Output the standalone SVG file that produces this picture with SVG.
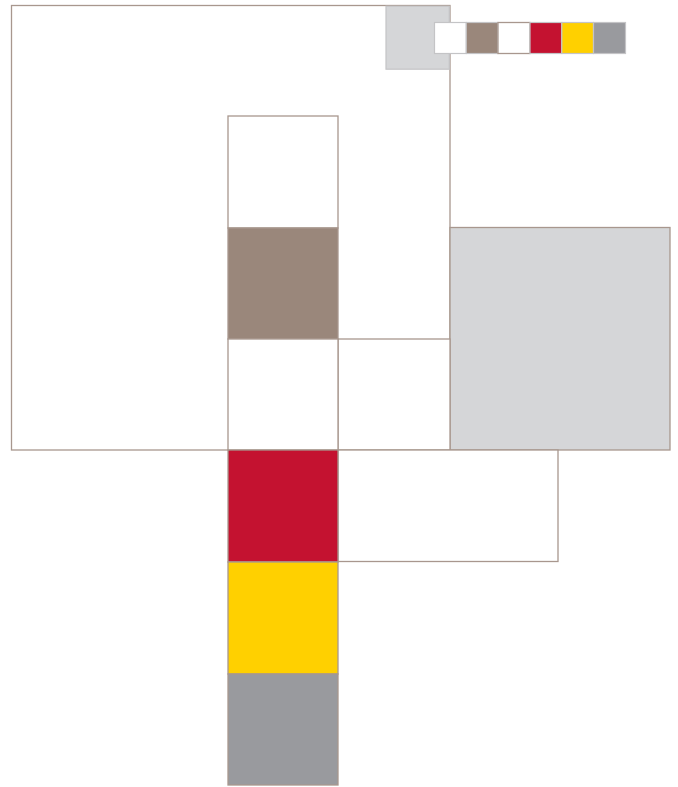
<svg xmlns="http://www.w3.org/2000/svg" width="678" height="787" viewBox="0 0 678 787">
<style>
.b{stroke:#a8978e;stroke-width:1.3}
.s{stroke:#c4c4c6;stroke-width:1.2}
.w{fill:#ffffff}.br{fill:#9a877b}.r{fill:#c41230}.y{fill:#ffd000}.g{fill:#999a9e}.lg{fill:#d5d6d8}
</style>
<rect width="678" height="787" fill="#ffffff"/>
<g id="frame"><rect class="b w" x="11.5" y="5.5" width="438.5" height="444.5"/></g>
<g id="corner"><rect class="s lg" x="386" y="6.2" width="63.3" height="63"/></g>
<g id="right-gray"><rect class="b lg" x="450" y="227.5" width="220" height="222.5"/></g>
<g id="mid-square"><rect class="b w" x="338" y="339" width="112" height="111"/></g>
<g id="low-rect"><rect class="b w" x="338" y="450" width="220" height="111.5"/></g>
<g id="column">
<rect class="b w" x="228" y="116" width="110" height="112"/>
<rect class="b br" x="228" y="228" width="110" height="111"/>
<rect class="b w" x="228" y="339" width="110" height="111"/>
<rect class="b r" x="228" y="450" width="110" height="112"/>
<rect class="b y" x="228" y="562" width="110" height="112"/>
<rect class="b g" x="228" y="674" width="110" height="111"/>
</g>
<g id="swatches">
<rect class="s w" x="434.5" y="22.5" width="31.8" height="31"/>
<rect class="s br" x="466.3" y="22.5" width="31.7" height="31"/>
<rect class="b w" x="498" y="22.5" width="32" height="31"/>
<rect class="s r" x="530" y="22.5" width="31.8" height="31"/>
<rect class="s y" x="561.8" y="22.5" width="31.7" height="31"/>
<rect class="s g" x="593.5" y="22.5" width="32" height="31"/>
</g>
</svg>
